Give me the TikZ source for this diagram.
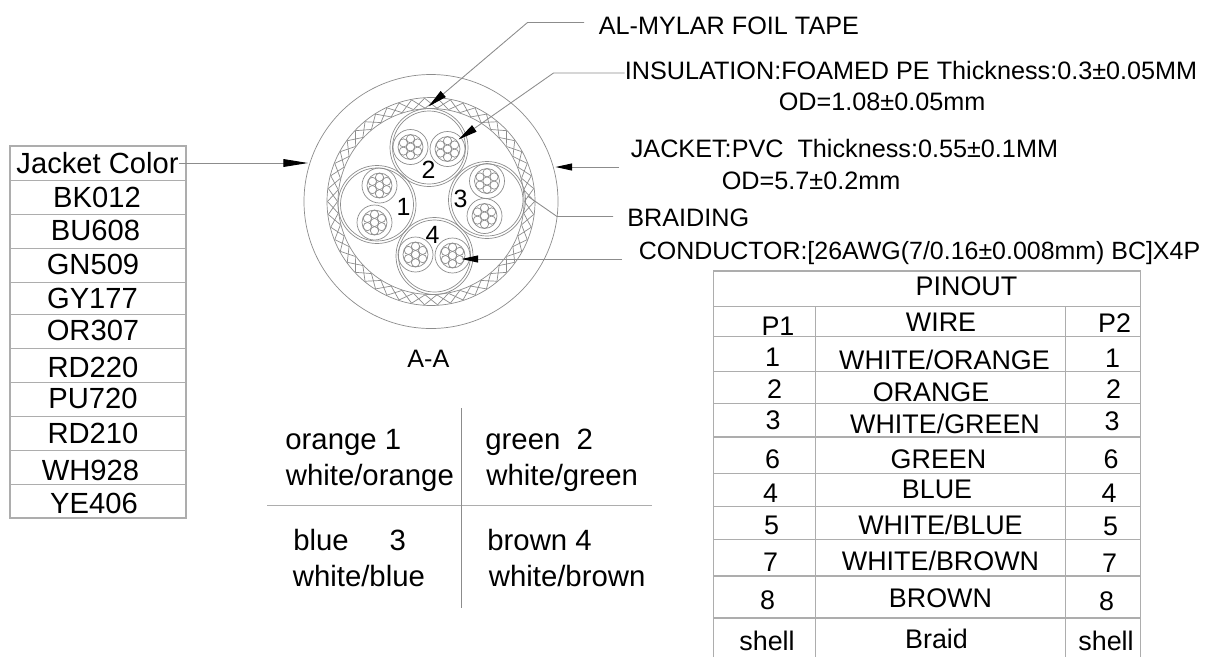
\documentclass[tikz,border=0pt]{standalone}
\usepackage{fontspec}
\setmainfont{Liberation Sans}
\usetikzlibrary{arrows.meta}
\definecolor{cablegray}{gray}{0.55}
\definecolor{rulegray}{gray}{0.68}
\tikzset{
	wire/.style={draw=cablegray, line width=0.4pt},
	rulebar/.style={draw=rulegray, line width=0.7pt},
	leader/.style={draw=cablegray, line width=0.5pt},
	capnode/.style={inner sep=0pt, text depth=0pt},
	jacketcell/.style={capnode, text height=11.9pt, font=\fontsize{16.6}{18}\selectfont},
	pincell/.style={capnode, text height=11pt, font=\fontsize{15.3}{18}\selectfont},
	pairtext/.style={inner sep=0pt, anchor=base west, font=\fontsize{16.7}{18}\selectfont},
	calltext/.style={inner sep=0pt, anchor=base west, font=\fontsize{14.35}{18}\selectfont},
	groupnum/.style={capnode, text height=10.2pt, font=\fontsize{14.2}{18}\selectfont},
	bighead/.style={-{Triangle[length=14pt, width=4.4pt, color=black, fill=black]}},
	midhead/.style={-{Triangle[length=11pt, width=4.4pt, color=black, fill=black]}},
	smallhead/.style={-{Triangle[length=9.5pt, width=4pt, color=black, fill=black]}}
}
\begin{document}
\begin{tikzpicture}[x=0.02cm, y=-0.02cm]
	\useasboundingbox (0, 0) rectangle (1207, 657);

	% cable section
	\begin{scope}[shift={(431, 201.5)}]
		\foreach \r in {127, 104, 93}
			\draw[wire] (0, 0) circle (\r);
		\foreach \a in {0, 7.2, ..., 352.8} {
			\draw[wire] (\a:93.5) -- ({\a+7.2}:103.5);
			\draw[wire] (\a:103.5) -- ({\a+7.2}:93.5);
		}
	\end{scope}

	\foreach \x/\y/\r in {429/147.5/39, 377/204.5/39, 487/200/38.5, 434.5/256/38.5} {
		\draw[wire] (\x, \y) circle (\r);
		\draw[wire] (\x, \y) circle (\r-2.5);
	}

	\foreach \x/\y in {410.5/147, 447.5/149, 379.5/185.5, 374.5/222.5, 487/181, 484.5/216, 415.5/254.5, 452.5/255.5} {
		\begin{scope}[shift={(\x, \y)}]
			\draw[wire] (0, 0) circle (17.5);
			\draw[wire] (0, 0) circle (12.5);
			\draw[wire] (0, 0) circle (4.1);
			\foreach \a in {30, 90, ..., 330}
				\draw[wire] (\a:8.2) circle (4.1);
		\end{scope}
	}

	\foreach \name/\num/\x/\y in {grpa/1/403.5/207, grpb/2/428.5/170, grpc/3/460.5/198.5, grpd/4/432.5/234.5}
		\node[groupnum] (\name) at (\x, \y) {\num};

	\node[calltext] (sect) at (407, 367.5) {A-A};

	% jacket colours
	\foreach \name/\text/\x/\y in {jkhead/Jacket Color/97.5/163, bka/BK012/97/197, bub/BU608/95.5/230, gnc/GN509/93/264, gyd/GY177/92.5/298, ore/OR307/93/330, rdf/RD220/93/367, pug/PU720/93/398, rdh/RD210/93/433, whi/WH928/90.5/470, yej/YE406/94/503}
		\node[jacketcell] (\name) at (\x, \y) {\text};

	\draw[rulebar] (10, 146) rectangle (186, 518);
	\foreach \y in {180.5, 214.5, 248.5, 282.5, 314.5, 348.5, 382.5, 416.5, 450.5, 484.5}
		\draw[rulebar] (10, \y) -- (186, \y);

	% pinout table
	\foreach \name/\text/\x/\y in {pinhead/PINOUT/966.5/286,
		pa/P1/778/325.5, wa/WIRE/941/321.5, qa/P2/1114.5/322.5,
		pb/1/772.5/356.5, wb/{WHITE/ORANGE}/944.5/360, qb/1/1112.5/357.5,
		pc/2/774.5/388.5, wc/ORANGE/931/391.5, qc/2/1113.5/389,
		pd/3/773/419.5, wd/{WHITE/GREEN}/945/424, qd/3/1112/420.5,
		pe/6/772.5/458.5, we/GREEN/938.5/459, qe/6/1111/459,
		pf/4/770.5/492.5, wf/BLUE/937/489, qf/4/1109/493,
		pg/5/771.5/525, wg/{WHITE/BLUE}/940.5/525, qg/5/1110.5/525.5,
		ph/7/770.5/561.5, wh/{WHITE/BROWN}/940.5/560.5, qh/7/1109.5/562.5,
		pi/8/767.5/600, wi/BROWN/940.5/597.5, qi/8/1106.5/600.5,
		pj/shell/767/640.5, wj/Braid/936.5/638.5, qj/shell/1106/641}
		\node[pincell] (\name) at (\x, \y) {\text};

	\draw[rulebar] (713.5, 657) -- (713.5, 271) -- (1140.5, 271) -- (1140.5, 657);
	\foreach \y in {306.5, 336.5, 371.5, 403.5, 437, 473.5, 506.5, 539.5, 576, 618}
		\draw[rulebar] (713.5, \y) -- (1140.5, \y);
	\foreach \x in {815.5, 1065.5}
		\draw[rulebar] (\x, 306.5) -- (\x, 657);

	% pair colours
	\node[pairtext] (paira) at (285, 449.5) {orange 1};
	\node[pairtext] (pairb) at (285.5, 485) {white/orange};
	\node[pairtext] (pairc) at (485, 449.5) {green\ \ 2};
	\node[pairtext] (paird) at (486, 485) {white/green};
	\node[pairtext] (paire) at (293, 550) {blue\ \ \ \ \ 3};
	\node[pairtext] (pairf) at (292.5, 586) {white/blue};
	\node[pairtext] (pairg) at (487, 550) {brown 4};
	\node[pairtext] (pairh) at (488.5, 586) {white/brown};
	\draw[rulebar] (267, 505.5) -- (651.5, 505.5);
	\draw[wire] (461.5, 408) -- (461.5, 608);

	% callouts
	\node[calltext] (foil) at (598.5, 34) {AL-MYLAR FOIL TAPE};
	\node[calltext] (insul) at (624.5, 79) {INSULATION:FOAMED PE Thickness:0.3±0.05MM};
	\node[calltext] (insulod) at (778.5, 110) {OD=1.08±0.05mm};
	\node[calltext] (jacket) at (630.5, 157.5) {JACKET:PVC\ \ Thickness:0.55±0.1MM};
	\node[calltext] (jacketod) at (721.5, 189.5) {OD=5.7±0.2mm};
	\node[calltext] (braid) at (627, 226) {BRAIDING};
	\node[calltext, font=\fontsize{14.2}{18}\selectfont] (cond) at (638.5, 259) {CONDUCTOR:[26AWG(7/0.16±0.008mm) BC]X4P};

	\coordinate (foilend) at (584, 22.5);
	\coordinate (foilbend) at (527.5, 22.5);
	\coordinate (foiltip) at (428.5, 106.5);
	\coordinate (insulbend) at (553.5, 73);
	\coordinate (insultip) at (458.5, 139.5);
	\coordinate (jacketend) at (619, 167);
	\coordinate (jackettip) at (555.5, 167);
	\coordinate (jacketleft) at (308, 163);
	\coordinate (braidend) at (613, 216.5);
	\coordinate (braidbend) at (557, 216.5);
	\coordinate (braidtip) at (527.5, 196);
	\coordinate (condend) at (622, 259);
	\coordinate (condtip) at (461.5, 259);

	\draw[leader, midhead] (foilend) -- (foilbend) -- (foiltip);
	\draw[leader, midhead] (insul.west |- insulbend) -- (insulbend) -- (insultip);
	\draw[leader, smallhead] (jacketend) -- (jackettip);
	\draw[leader, bighead] (jkhead.east) -- (jacketleft);
	\draw[leader] (braidend) -- (braidbend) -- (braidtip);
	\draw[leader, smallhead] (condend) -- (condtip);
\end{tikzpicture}
\end{document}
